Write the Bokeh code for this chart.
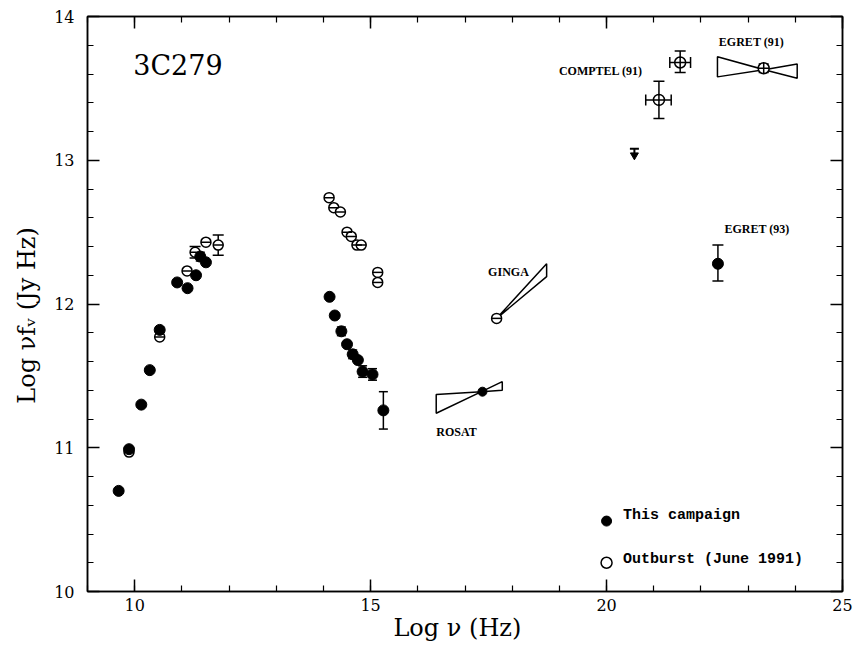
from bokeh.plotting import figure
from bokeh.models import (ColumnDataSource, Whisker, TeeHead, LinearAxis,
                          SingleIntervalTicker, Range1d)
from bokeh.core.properties import value
from bokeh.embed import file_html
from bokeh.resources import INLINE

# ---------------- data ----------------
# This campaign (filled)
camp_x = [9.66, 9.88, 10.14, 10.32, 10.53, 10.90, 11.12, 11.30, 11.39, 11.51,
          14.13, 14.24, 14.38, 14.50, 14.62, 14.73, 14.83, 15.04, 15.27]
camp_y = [10.70, 10.99, 11.30, 11.54, 11.82, 12.15, 12.11, 12.20, 12.33, 12.29,
          12.05, 11.92, 11.81, 11.72, 11.65, 11.61, 11.53, 11.51, 11.26]
camp_err = [0.0, 0.0, 0.0, 0.0, 0.02, 0.0, 0.0, 0.0, 0.03, 0.0,
            0.0, 0.0, 0.03, 0.0, 0.03, 0.0, 0.04, 0.04, 0.13]

# Outburst June 1991 (open)
outb_x = [9.88, 10.53, 11.11, 11.28, 11.51, 11.77,
          14.12, 14.22, 14.36, 14.50, 14.59, 14.71, 14.80, 15.15, 15.15]
outb_y = [10.97, 11.77, 12.23, 12.36, 12.43, 12.41,
          12.74, 12.67, 12.64, 12.50, 12.47, 12.41, 12.41, 12.22, 12.15]
outb_err = [0.0, 0.0, 0.0, 0.04, 0.0, 0.07,
            0.0, 0.0, 0.0, 0.0, 0.0, 0.0, 0.0, 0.0, 0.0]

# X-ray points
rosat_x, rosat_y = [17.37], [11.39]
ginga_x, ginga_y = [17.67], [11.90]
rosat_bow_x = [[16.39, 16.39, 17.35], [17.35, 17.79, 17.79]]
rosat_bow_y = [[11.37, 11.24, 11.39], [11.39, 11.46, 11.40]]
ginga_bow_x = [[17.67, 18.73, 18.73]]
ginga_bow_y = [[11.90, 12.28, 12.19]]

# Gamma rays
comptel_x = [21.11, 21.56]
comptel_y = [13.42, 13.68]
comptel_xlo = [20.83, 21.34]
comptel_xhi = [21.37, 21.78]
comptel_ylo = [13.29, 13.61]
comptel_yhi = [13.55, 13.76]
ulim_x, ulim_y, ulim_tip = [20.59], [13.08], [13.035]
egret91_x, egret91_y, egret91_err = [23.33], [13.64], [0.03]
egret91_bow_x = [[22.35, 22.35, 23.34], [23.34, 24.04, 24.04]]
egret91_bow_y = [[13.72, 13.58, 13.63], [13.63, 13.67, 13.57]]
egret93_x, egret93_y, egret93_lo, egret93_hi = [22.36], [12.28], [12.16], [12.41]

# annotation labels
lab_text = ["COMPTEL (91)", "EGRET (91)", "EGRET (93)", "GINGA", "ROSAT"]
lab_x = [18.99, 22.38, 22.50, 17.49, 16.39]
lab_y = [13.62, 13.82, 12.52, 12.22, 11.11]

legend_text = ["This campaign", "Outburst (June 1991)"]
legend_mark_x = [20.0, 20.0]
legend_mark_y = [10.49, 10.20]
legend_text_x = [20.35, 20.35]
legend_text_y = [10.53, 10.22]

title_text, title_x, title_y = ["3C279"], [9.97], [13.66]

x_ticks_major = [10, 15, 20, 25]
y_ticks_major = [10, 11, 12, 13, 14]

# ---------------- figure ----------------
p = figure(width=855, height=645, x_range=Range1d(9, 25), y_range=Range1d(10, 14),
           output_backend="svg", toolbar_location=None,
           min_border_left=87, min_border_top=16, min_border_right=13,
           min_border_bottom=54)
p.xgrid.visible = False
p.ygrid.visible = False
p.outline_line_color = "black"
p.outline_line_width = 1.5
p.background_fill_color = "white"
p.border_fill_color = "white"

p.xaxis[0].ticker = SingleIntervalTicker(interval=5, num_minor_ticks=5)
p.yaxis[0].ticker = SingleIntervalTicker(interval=1, num_minor_ticks=5)


def style_axis(ax):
    ax.major_tick_in = 12
    ax.major_tick_out = 0
    ax.minor_tick_in = 6
    ax.minor_tick_out = 0
    ax.axis_line_width = 1.5
    ax.axis_line_color = "black"
    ax.major_tick_line_width = 1.5
    ax.minor_tick_line_width = 1.2
    ax.major_tick_line_color = "black"
    ax.minor_tick_line_color = "black"
    ax.major_label_text_font = "DejaVu Serif"
    ax.major_label_text_font_size = "16px"
    ax.major_label_text_color = "black"


style_axis(p.xaxis[0])
style_axis(p.yaxis[0])
p.xaxis[0].major_label_standoff = 7
p.yaxis[0].major_label_standoff = 13
p.xaxis[0].axis_label = "Log  ν  (Hz)"
p.yaxis[0].axis_label = "Log  νfᵥ  (Jy  Hz)"
for ax in (p.xaxis[0], p.yaxis[0]):
    ax.axis_label_text_font = "DejaVu Serif"
    ax.axis_label_text_font_size = "24px"
    ax.axis_label_text_font_style = "normal"
    ax.axis_label_text_color = "black"
p.xaxis[0].axis_label_standoff = 0
p.yaxis[0].axis_label_standoff = 10

top = LinearAxis(ticker=SingleIntervalTicker(interval=5, num_minor_ticks=5))
style_axis(top)
top.major_label_overrides = {t: "" for t in x_ticks_major}
top.major_label_standoff = 0
p.add_layout(top, "above")
right = LinearAxis(ticker=SingleIntervalTicker(interval=1, num_minor_ticks=5))
style_axis(right)
right.major_label_overrides = {t: "" for t in y_ticks_major}
right.major_label_standoff = 0
p.add_layout(right, "right")


# ---------------- error bars ----------------
def whisk(base, lo, hi, dim, head=9):
    src = ColumnDataSource(dict(b=base, lo=lo, hi=hi))
    p.add_layout(Whisker(source=src, base="b", lower="lo", upper="hi", dimension=dim,
                         line_color="black", line_width=1.5,
                         upper_head=TeeHead(size=head, line_width=1.5, line_color="black"),
                         lower_head=TeeHead(size=head, line_width=1.5, line_color="black")))


def vbars(xs, ys, errs, head=9):
    sel = [(x, y, e) for x, y, e in zip(xs, ys, errs) if e > 0]
    whisk([s[0] for s in sel], [s[1] - s[2] for s in sel], [s[1] + s[2] for s in sel],
          "height", head)


vbars(camp_x, camp_y, camp_err)
vbars(outb_x, outb_y, outb_err, head=11)
vbars(egret91_x, egret91_y, egret91_err, head=10)
whisk(egret93_x, egret93_lo, egret93_hi, "height", 11)
whisk(comptel_x, comptel_ylo, comptel_yhi, "height", 11)
whisk(comptel_y, comptel_xlo, comptel_xhi, "width", 11)

# ---------------- bow ties ----------------
p.patches(rosat_bow_x + ginga_bow_x + egret91_bow_x,
          rosat_bow_y + ginga_bow_y + egret91_bow_y,
          fill_color=None, line_color="black", line_width=1.5)

# ---------------- markers ----------------
p.scatter(outb_x, outb_y, marker="circle", size=10, fill_color="white",
          line_color="black", line_width=1.5)
p.scatter(outb_x, outb_y, marker="dash", size=10, line_color="black", line_width=1.5)
p.scatter(camp_x, camp_y, marker="circle", size=11, fill_color="black", line_color="black")

p.scatter(rosat_x, rosat_y, marker="circle", size=9, fill_color="black", line_color="black")
p.scatter(ginga_x, ginga_y, marker="circle", size=10, fill_color="white",
          line_color="black", line_width=1.5)
p.scatter(ginga_x, ginga_y, marker="dash", size=10, line_color="black", line_width=1.5)

p.scatter(comptel_x, comptel_y, marker="circle_cross", size=11, fill_color="white",
          line_color="black", line_width=1.5)
p.scatter(egret91_x, egret91_y, marker="circle_cross", size=11, fill_color="white",
          line_color="black", line_width=1.5)
p.scatter(egret93_x, egret93_y, marker="circle", size=11, fill_color="black", line_color="black")

# upper limit arrow
p.scatter(ulim_x, ulim_y, marker="dash", size=9, line_color="black", line_width=2)
p.segment(ulim_x, ulim_y, ulim_x, ulim_tip, line_color="black", line_width=2)
p.scatter(ulim_x, ulim_tip, marker="inverted_triangle", size=8, fill_color="black",
          line_color="black")

# legend markers
p.scatter(legend_mark_x[:1], legend_mark_y[:1], marker="circle", size=10,
          fill_color="black", line_color="black")
p.scatter(legend_mark_x[1:], legend_mark_y[1:], marker="circle", size=11,
          fill_color="white", line_color="black", line_width=1.5)

# ---------------- texts ----------------
p.text(lab_x, lab_y, text=lab_text, text_font=value("Liberation Serif"),
       text_font_style="bold", text_font_size="12px", text_baseline="middle",
       text_align="left", text_color="black")
p.text(legend_text_x, legend_text_y, text=legend_text, text_font=value("Liberation Mono"),
       text_font_style="bold", text_font_size="15px", text_baseline="middle",
       text_align="left", text_color="black")
p.text(title_x, title_y, text=title_text, text_font=value("DejaVu Serif"),
       text_font_size="27px", text_baseline="middle", text_align="left",
       text_color="black")

open("out.html", "w").write(file_html(p, INLINE))
